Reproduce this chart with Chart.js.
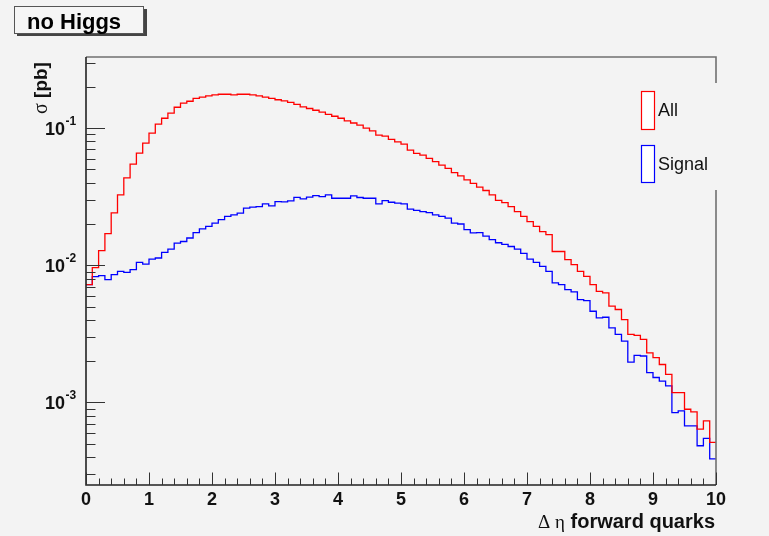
<!DOCTYPE html>
<html><head><meta charset="utf-8">
<script src="https://cdn.jsdelivr.net/npm/chart.js@4/dist/chart.umd.min.js"></script>
<style>html,body{margin:0;padding:0;background:#f3f3f3;}canvas{display:block;}</style>
</head><body>
<canvas id="c" width="769" height="536"></canvas>
<script>
// ---- data ----
const binEdges = [0,0.1,0.2,0.3,0.4,0.5,0.6,0.7,0.8,0.9,1,1.1,1.2,1.3,1.4,1.5,1.6,1.7,1.8,1.9,2,2.1,2.2,2.3,2.4,2.5,2.6,2.7,2.8,2.9,3,3.1,3.2,3.3,3.4,3.5,3.6,3.7,3.8,3.9,4,4.1,4.2,4.3,4.4,4.5,4.6,4.7,4.8,4.9,5,5.1,5.2,5.3,5.4,5.5,5.6,5.7,5.8,5.9,6,6.1,6.2,6.3,6.4,6.5,6.6,6.7,6.8,6.9,7,7.1,7.2,7.3,7.4,7.5,7.6,7.7,7.8,7.9,8,8.1,8.2,8.3,8.4,8.5,8.6,8.7,8.8,8.9,9,9.1,9.2,9.3,9.4,9.5,9.6,9.7,9.8,9.9,10];
const allValues = [0.00723,0.00961,0.0128,0.0170,0.0241,0.0326,0.0433,0.0547,0.0658,0.0778,
  0.0920,0.107,0.118,0.1285,0.142,0.152,0.157,0.165,0.168,0.172,
  0.175,0.1766,0.1766,0.175,0.1766,0.1766,0.175,0.172,0.168,0.165,
  0.161,0.158,0.154,0.149,0.143,0.139,0.135,0.131,0.126,0.122,
  0.118,0.113,0.109,0.105,0.100,0.0956,0.0889,0.0875,0.0828,0.0795,
  0.0765,0.0692,0.0655,0.0636,0.0602,0.0569,0.0538,0.0509,0.0473,0.0448,
  0.0419,0.0396,0.0371,0.0351,0.0326,0.0297,0.0286,0.0268,0.0246,0.0227,
  0.0208,0.0192,0.0176,0.0167,0.0126,0.0126,0.0110,0.0101,0.00903,0.0083,
  0.00723,0.00646,0.00629,0.00503,0.00476,0.00402,0.00313,0.00308,0.00288,0.00230,
  0.00212,0.00189,0.00160,0.00118,0.00118,0.000892,0.000853,0.000639,0.000734,0.000511];
const signalValues = [0.00723,0.00826,0.00840,0.00786,0.00855,0.00903,0.00888,0.00929,0.0105,0.0102,
  0.0111,0.0113,0.0124,0.0131,0.0145,0.0149,0.0158,0.0173,0.0184,0.0192,
  0.0203,0.0215,0.0227,0.0233,0.0240,0.0261,0.0265,0.0268,0.0280,0.0271,
  0.0291,0.0290,0.0295,0.0313,0.0305,0.0314,0.0322,0.0317,0.0326,0.0308,
  0.0308,0.0308,0.0321,0.0312,0.0308,0.0308,0.0280,0.0296,0.0288,0.0284,
  0.0280,0.0257,0.0251,0.0246,0.0242,0.0233,0.0227,0.0221,0.0203,0.0200,
  0.0182,0.0172,0.0173,0.0163,0.0154,0.0146,0.0142,0.0137,0.0131,0.0122,
  0.0111,0.0105,0.00982,0.00903,0.00744,0.00723,0.00665,0.00640,0.00562,0.00553,
  0.00462,0.00414,0.00418,0.00350,0.00313,0.00280,0.00197,0.00220,0.00218,0.00165,
  0.00152,0.00143,0.00132,0.000844,0.000868,0.000675,0.000675,0.000483,0.000546,0.000387];
const seriesNames = ['All','Signal'];
const xTickValues = [0,1,2,3,4,5,6,7,8,9,10];
const xTickLabels = ['0','1','2','3','4','5','6','7','8','9','10'];
const yTickValues = [0.001,0.01,0.1];
const yTickExponents = ['-3','-2','-1'];
const titleText = 'no Higgs';
const xTitleGreek = '\u0394 \u03b7';
const xTitleText = ' forward quarks';
const yTitleGreek = '\u03c3';
const yTitleText = ' [pb]';
const yRange = [2.5e-4, 0.33];

// histogram outline points (left bin edges + closing edge)
function histPoints(vals){
  const pts = vals.map((v,i)=>({x:binEdges[i], y:v}));
  pts.push({x:binEdges[vals.length], y:vals[vals.length-1]});
  return pts;
}

const BG = '#f3f3f3';
const SANS = '"Liberation Sans", Arial, sans-serif';
const SERIF = '"Liberation Serif", "DejaVu Serif", serif';
const rootStyle = {
  id:'rootStyle',
  beforeDraw(chart){
    const c = chart.ctx; c.save(); c.fillStyle = BG; c.fillRect(0,0,chart.width,chart.height); c.restore();
  },
  afterDraw(chart){
    const c = chart.ctx, a = chart.chartArea, xs = chart.scales.x, ys = chart.scales.y;
    c.save();
    // frame top/right
    c.strokeStyle = '#707070'; c.lineWidth = 1.6;
    c.beginPath(); c.moveTo(a.left, a.top); c.lineTo(a.right, a.top); c.lineTo(a.right, 83);
    c.moveTo(a.right, 190); c.lineTo(a.right, a.bottom); c.stroke();
    // axes
    c.strokeStyle = '#222'; c.lineWidth = 1.6;
    c.beginPath(); c.moveTo(a.left, a.top); c.lineTo(a.left, a.bottom); c.lineTo(a.right, a.bottom); c.stroke();
    // x ticks
    c.strokeStyle = '#333'; c.lineWidth = 1;
    c.beginPath();
    for (let i=0;i<xTickValues.length;i++){
      const px = Math.round(xs.getPixelForValue(xTickValues[i]))+0.5;
      c.moveTo(px, a.bottom); c.lineTo(px, a.bottom-12.5);
      if (i<xTickValues.length-1){
        const step = (xTickValues[i+1]-xTickValues[i])/5;
        for (let k=1;k<5;k++){
          const mx = Math.round(xs.getPixelForValue(xTickValues[i]+k*step))+0.5;
          c.moveTo(mx, a.bottom); c.lineTo(mx, a.bottom-6.5);
        }
      }
    }
    // y ticks
    for (let i=0;i<yTickValues.length;i++){
      const py = Math.round(ys.getPixelForValue(yTickValues[i]))+0.5;
      c.moveTo(a.left, py); c.lineTo(a.left+19, py);
    }
    const decades = [yTickValues[0]/10].concat(yTickValues);
    for (const d of decades){
      for (let k=2;k<=9;k++){
        const v = d*k;
        if (v < yRange[0] || v > yRange[1]) continue;
        const py = Math.round(ys.getPixelForValue(v))+0.5;
        c.moveTo(a.left, py); c.lineTo(a.left+9.5, py);
      }
    }
    c.stroke();
    // x tick labels
    c.fillStyle = '#111';
    c.font = 'bold 18px ' + SANS;
    c.textAlign = 'center'; c.textBaseline = 'alphabetic';
    for (let i=0;i<xTickValues.length;i++){
      c.fillText(xTickLabels[i], xs.getPixelForValue(xTickValues[i]), a.bottom+20);
    }
    // y tick labels 10^n
    for (let i=0;i<yTickValues.length;i++){
      const py = ys.getPixelForValue(yTickValues[i]);
      c.font = 'bold 18px ' + SANS;
      c.textAlign = 'right';
      c.fillText('10', 65, py+6.5);
      c.font = 'bold 12px ' + SANS;
      c.textAlign = 'left';
      c.fillText(yTickExponents[i], 65.5, py-3.5);
    }
    // x title
    c.textAlign = 'left';
    c.font = 'bold 20px ' + SANS;
    const w2 = c.measureText(xTitleText).width;
    c.font = '19px ' + SERIF;
    const w1 = c.measureText(xTitleGreek).width;
    const xEnd = 715, xBase = 528;
    c.fillText(xTitleGreek, xEnd - w2 - w1, xBase);
    c.font = 'bold 20px ' + SANS;
    c.fillText(xTitleText, xEnd - w2, xBase);
    // y title (rotated)
    c.save();
    c.translate(47, 114);
    c.rotate(-Math.PI/2);
    c.font = '20px ' + SERIF;
    c.fillText(yTitleGreek, 0, 0);
    const ws = c.measureText(yTitleGreek).width;
    c.font = 'bold 19px ' + SANS;
    c.fillText(yTitleText, ws, 0);
    c.restore();
    // legend
    const ds = chart.data.datasets;
    const boxes = [[91,130],[145,183]];
    c.font = '18px ' + SANS;
    c.textBaseline = 'middle';
    for (let i=0;i<ds.length;i++){
      const [t,b] = boxes[i];
      c.fillStyle = '#ffffff';
      c.fillRect(641, t, 14, b-t);
      c.strokeStyle = ds[i].borderColor; c.lineWidth = 1.2;
      c.strokeRect(641.5, t+0.5, 13, b-t-1);
      c.fillStyle = '#111';
      c.fillText(ds[i].label, 658, (t+b)/2+1);
    }
    // title box
    c.fillStyle = '#444';
    c.fillRect(17, 33, 130, 3);
    c.fillRect(144, 9, 3, 27);
    c.fillStyle = '#f5f5f5';
    c.fillRect(14, 6, 130, 28);
    c.strokeStyle = '#555'; c.lineWidth = 1;
    c.strokeRect(14.5, 6.5, 129, 27);
    c.fillStyle = '#000';
    c.textBaseline = 'alphabetic';
    c.font = 'bold 22px ' + SANS;
    c.fillText(titleText, 27, 29);
    c.restore();
  }
};

new Chart(document.getElementById('c'), {
  type:'line',
  data:{
    datasets:[
      {label:seriesNames[0], data:histPoints(allValues), borderColor:'#ff0000', borderWidth:1.3, stepped:true, pointRadius:0, fill:false},
      {label:seriesNames[1], data:histPoints(signalValues), borderColor:'#0000ff', borderWidth:1.3, stepped:true, pointRadius:0, fill:false}
    ]
  },
  options:{
    responsive:false, animation:false, devicePixelRatio:1,
    layout:{padding:{left:86, right:53, top:57, bottom:51}},
    plugins:{legend:{display:false}, tooltip:{enabled:false}, title:{display:false}},
    scales:{
      x:{type:'linear', min:0, max:10, display:false},
      y:{type:'logarithmic', min:yRange[0], max:yRange[1], display:false}
    }
  },
  plugins:[rootStyle]
});
</script>
</body></html>
